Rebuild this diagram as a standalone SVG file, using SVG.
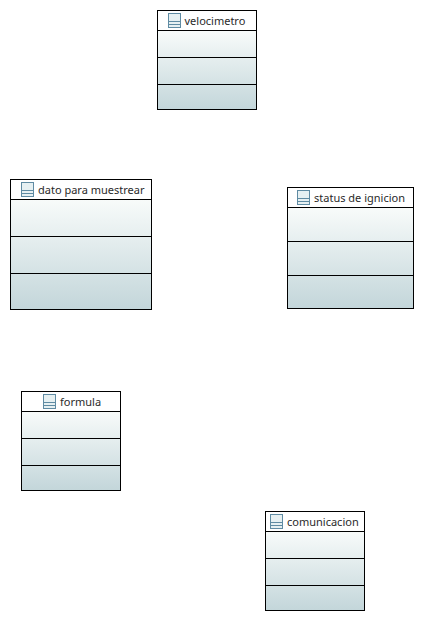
<svg xmlns="http://www.w3.org/2000/svg" xmlns:xlink="http://www.w3.org/1999/xlink" width="424" height="621" viewBox="0 0 424 621">
<style>
.box{fill:none;stroke:#000;stroke-width:1}
.body{fill:url(#g)}
.t{font-family:"Noto Sans","Open Sans",sans-serif;font-size:11px;fill:#2a2a2a}
.i{fill:#e6f0f2;stroke:#5f8ba3;stroke-width:1}
.il{stroke:#5f8ba3;stroke-width:1;fill:none}
</style>
<defs>
<linearGradient id="g" x1="0" y1="0" x2="0" y2="1">
<stop offset="0" stop-color="#f8fbfa"/>
<stop offset="1" stop-color="#c3d6da"/>
</linearGradient>
<g id="icon">
<rect class="i" x="0.5" y="0.5" width="12" height="14"/>
<path class="il" d="M0.5 8.5H12.5M0.5 11.5H12.5"/>
</g>
</defs>
<rect width="424" height="621" fill="#fff"/>
<g id="velocimetro">
<rect class="body" x="157.5" y="30.5" width="99" height="79"/>
<rect class="box" x="157.5" y="10.5" width="99" height="99"/>
<path class="box" d="M157.5 30.5H256.5M157.5 57.5H256.5M157.5 84.5H256.5"/>
<use xlink:href="#icon" x="168" y="13"/>
<text class="t" x="184.500" y="25">velocimetro</text>
</g>
<g id="dato-para-muestrear">
<rect class="body" x="10.500" y="199.5" width="141" height="110"/>
<rect class="box" x="10.5" y="179.5" width="141" height="130"/>
<path class="box" d="M10.5 199.5H151.5M10.5 236.5H151.5M10.5 273.5H151.5"/>
<use xlink:href="#icon" x="21" y="182"/>
<text class="t" x="38" y="194">dato para muestrear</text>
</g>
<g id="status-de-ignicion">
<rect class="body" x="287.5" y="207.5" width="126" height="101"/>
<rect class="box" x="287.5" y="187.5" width="126" height="121"/>
<path class="box" d="M287.5 207.5H413.5M287.5 241.5H413.5M287.5 275.5H413.5"/>
<use xlink:href="#icon" x="297" y="190"/>
<text class="t" x="314" y="202">status de ignicion</text>
</g>
<g id="formula">
<rect class="body" x="21.5" y="411.5" width="99" height="79"/>
<rect class="box" x="21.5" y="391.5" width="99" height="99"/>
<path class="box" d="M21.500 411.5H120.5M21.5 438.5H120.5M21.5 465.5H120.5"/>
<use xlink:href="#icon" x="43" y="394"/>
<text class="t" x="60" y="406">formula</text>
</g>
<g id="comunicacion">
<rect class="body" x="265.5" y="531.5" width="99" height="79"/>
<rect class="box" x="265.5" y="511.5" width="99" height="99"/>
<path class="box" d="M265.5 531.5H364.5M265.5 558.5H364.5M265.5 585.5H364.5"/>
<use xlink:href="#icon" x="270" y="514"/>
<text class="t" x="287" y="526">comunicacion</text>
</g>
<g id="connectors"/>
</svg>
